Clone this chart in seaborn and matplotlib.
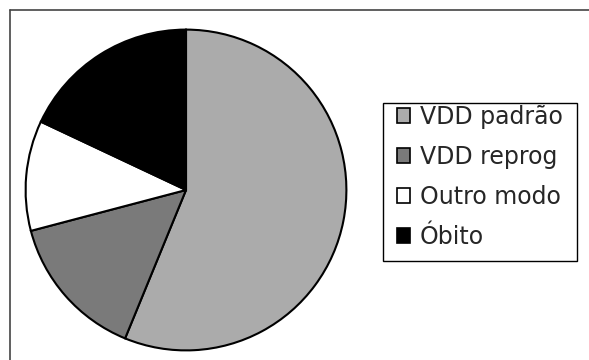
import matplotlib
matplotlib.use("Agg")
import matplotlib.pyplot as plt
import seaborn as sns
from matplotlib.patches import Patch, Rectangle
from matplotlib.lines import Line2D

sns.set_style("white")
plt.rcParams['font.family'] = ['DejaVu Sans']

categories = ["VDD padrão", "VDD reprog", "Outro modo", "Óbito"]
values = [56.2, 14.7, 11.1, 18.0]
colors = ["#ababab", "#7a7a7a", "#ffffff", "#000000"]

W, H = 589, 360
fig = plt.figure(figsize=(W / 100, H / 100), dpi=100)
fig.patch.set_facecolor("white")

# outer frame (only top and left edges are visible)
fx, fy = 9.5 / W, 1 - 9.5 / H
fig.add_artist(Line2D([fx, 1.05], [fy, fy], transform=fig.transFigure,
                      color="#444444", linewidth=1.2))
fig.add_artist(Line2D([fx, fx], [-0.05, fy], transform=fig.transFigure,
                      color="#444444", linewidth=1.2))

cx, cy, r = 186, 190, 162
ax = fig.add_axes([(cx - r) / W, (H - cy - r) / H, 2 * r / W, 2 * r / H])
ax.pie(values, colors=colors, startangle=90, counterclock=False,
       wedgeprops=dict(edgecolor="black", linewidth=1.5))
ax.set_xlim(-1.01, 1.01)
ax.set_ylim(-1.01, 1.01)
ax.set_aspect("auto")
ax.axis("off")

# legend box frame
fig.add_artist(Rectangle((382.5 / W, (H - 260.5) / H), 194 / W, 158 / H,
                         transform=fig.transFigure, fill=True, facecolor="white",
                         edgecolor="black", linewidth=1.0, zorder=2))

handles = [Patch(facecolor=c, edgecolor="black", linewidth=1.2) for c in colors]
leg = fig.legend(handles, categories, loc="upper left",
                 bbox_to_anchor=(386 / W, 1 - 94 / H), borderaxespad=0,
                 fontsize=17, frameon=False,
                 handlelength=0.58, handleheight=0.58, handletextpad=0.4,
                 borderpad=0.45, labelspacing=0.68)
leg.set_zorder(3)

fig.savefig("out.png", dpi=100, facecolor="white")
